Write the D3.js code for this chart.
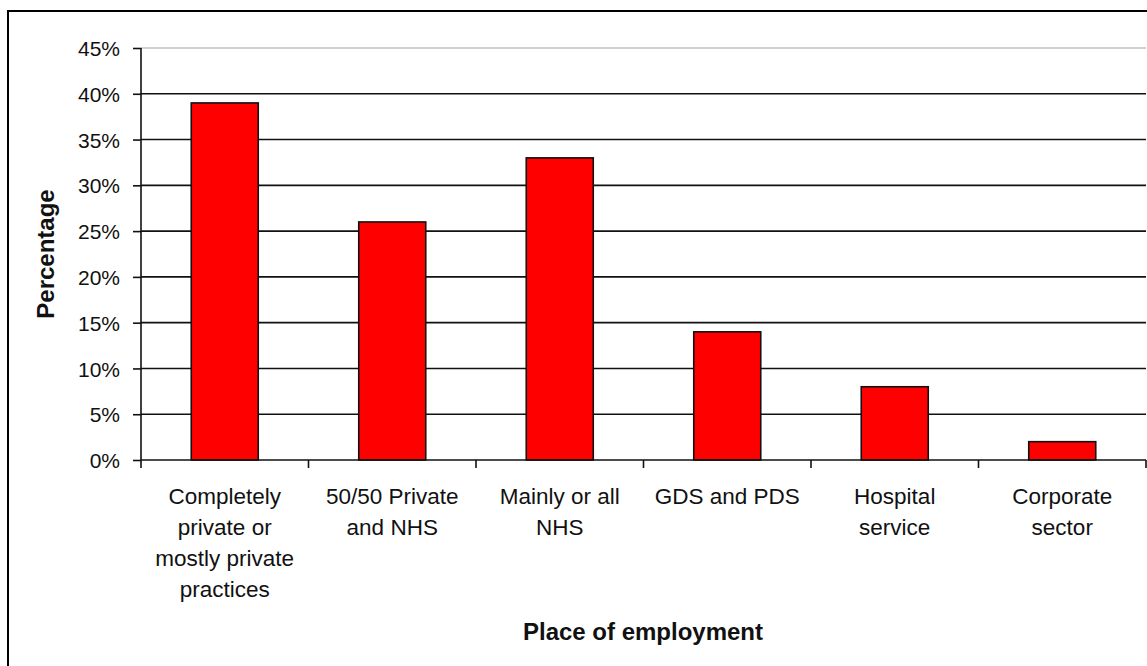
<!DOCTYPE html>
<html><head><meta charset="utf-8">
<script src="https://cdn.jsdelivr.net/npm/d3@7"></script>
<style>body{margin:0;background:#fff;}svg{display:block;font-family:"Liberation Sans",Arial,sans-serif;}</style>
</head><body>
<svg id="c" width="1147" height="666"></svg>
<script>
const categories = [
  ["Completely","private or","mostly private","practices"],
  ["50/50 Private","and NHS"],
  ["Mainly or all","NHS"],
  ["GDS and PDS"],
  ["Hospital","service"],
  ["Corporate","sector"]
];
const values = [39, 26, 33, 14, 8, 2];
const yTicks = [0,5,10,15,20,25,30,35,40,45];

const svg = d3.select("#c");
const L = 141, R = 1146, T = 48, B = 460;
svg.append("rect").attr("x",8).attr("y",11).attr("width",1160).attr("height",700)
  .attr("fill","#fff").attr("stroke","#000").attr("stroke-width",2);

const x = d3.scaleBand().domain(d3.range(categories.length)).range([L,R]).paddingInner(0);
const y = d3.scaleLinear().domain([0,45]).range([B,T]);

// gridlines
svg.append("g").selectAll("line").data(yTicks.filter(t=>t>0)).join("line")
  .attr("x1",L).attr("x2",R).attr("y1",d=>y(d)).attr("y2",d=>y(d))
  .attr("stroke",d=>d===45?"#c0c0c0":"#111").attr("stroke-width",1.6);

// bars
const bw = x.bandwidth()*0.4;
svg.append("g").selectAll("rect").data(values).join("rect")
  .attr("x",(d,i)=>x(i)+x.bandwidth()/2-bw/2).attr("width",bw)
  .attr("y",d=>y(d)).attr("height",d=>B-y(d))
  .attr("fill","#ff0000").attr("stroke","#111").attr("stroke-width",1.6);

// y axis
const ya = svg.append("g").attr("transform",`translate(${L},0)`)
  .call(d3.axisLeft(y).tickValues(yTicks).tickFormat(d=>d+"%").tickSize(8).tickPadding(13));
ya.attr("font-size",null).attr("font-family",null);
ya.select(".domain").attr("stroke","#111").attr("stroke-width",1.6).attr("d",`M0,${T}V${B}`);
ya.selectAll(".tick line").attr("stroke","#111").attr("stroke-width",1.6);
ya.selectAll(".tick text").style("font-size","21px").attr("fill","#111").attr("dy","0.36em");

// x axis
const xt = svg.append("g");
xt.append("line").attr("x1",L).attr("x2",R).attr("y1",B).attr("y2",B).attr("stroke","#111").attr("stroke-width",1.6);
xt.selectAll("line.tk").data(d3.range(categories.length+1)).join("line").attr("class","tk")
  .attr("x1",i=>L+i*x.bandwidth()).attr("x2",i=>L+i*x.bandwidth())
  .attr("y1",B).attr("y2",B+8).attr("stroke","#111").attr("stroke-width",1.6);
categories.forEach((lines,i)=>{
  const t = xt.append("text").attr("text-anchor","middle").style("font-size","22.5px").attr("fill","#111");
  lines.forEach((ln,j)=>t.append("tspan").attr("x",x(i)+x.bandwidth()/2).attr("y",504+j*31).text(ln));
});

svg.append("text").attr("x",643).attr("y",640).attr("text-anchor","middle")
  .style("font-size","24px").attr("font-weight","bold").attr("fill","#111").text("Place of employment");
svg.append("text").attr("transform","translate(54,254) rotate(-90)").attr("text-anchor","middle")
  .style("font-size","24px").attr("font-weight","bold").attr("fill","#111").text("Percentage");
</script>
</body></html>
